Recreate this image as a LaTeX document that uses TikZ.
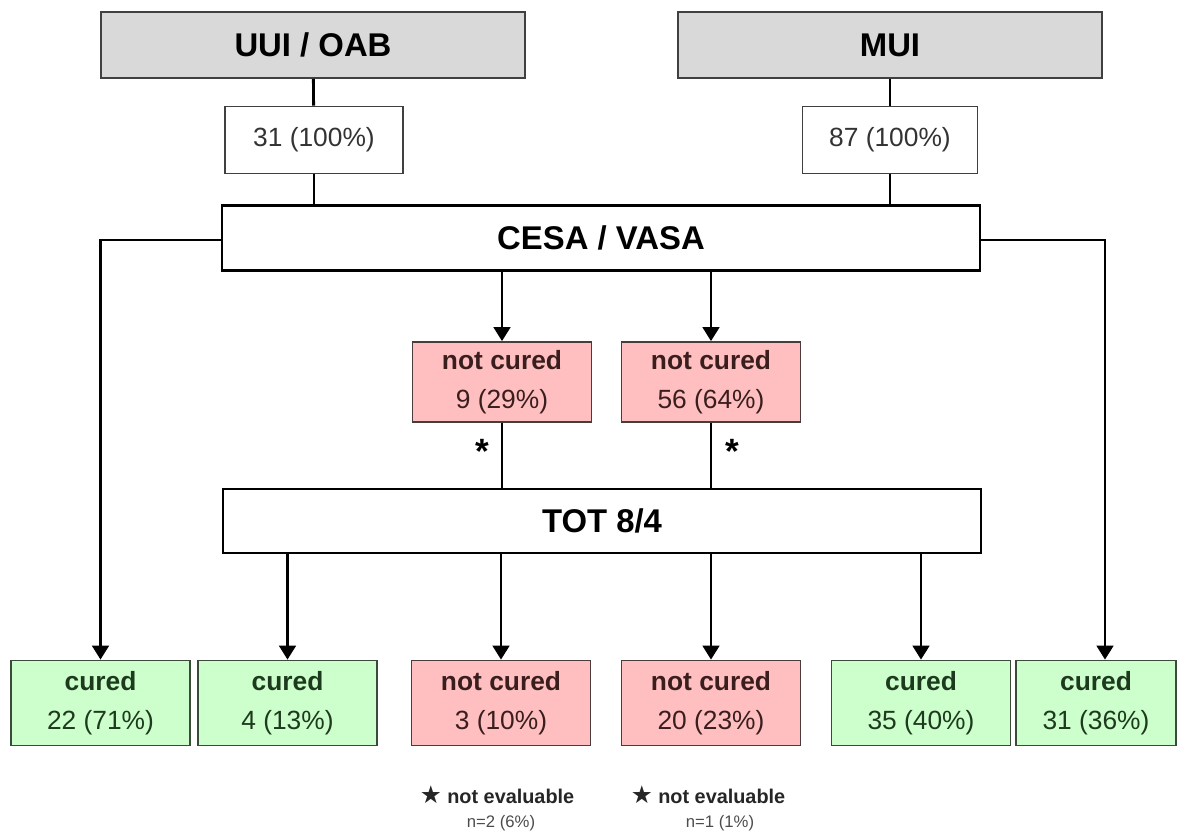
\documentclass[tikz,border=0pt]{standalone}
\usepackage{fontspec}
\setmainfont{Liberation Sans}
\newfontfamily\symfont{DejaVu Sans}
\usepackage{tikz}
\usetikzlibrary{arrows.meta, calc}
\definecolor{boxgray}{HTML}{D9D9D9}
\definecolor{curedfill}{HTML}{CCFFCC}
\definecolor{curedtext}{HTML}{1E3A1E}
\definecolor{curededge}{HTML}{3C4A3C}
\definecolor{notcuredfill}{HTML}{FFBFC0}
\definecolor{notcuredtext}{HTML}{3A1E1E}
\definecolor{notcurededge}{HTML}{4A3C3C}

\begin{document}
\begin{tikzpicture}[x=0.02cm, y=-0.02cm]
    \tikzset{TitleStyle/.style = {draw = black!75, line width = 1.1pt, fill = boxgray, minimum width = 8.5cm, minimum height = 1.32cm, inner sep = 0, font = \fontsize{18.7}{22}\selectfont\bfseries}}
    \tikzset{CountStyle/.style = {draw = black!75, line width = 1pt, fill = white, minimum width = 3.56cm, minimum height = 1.34cm, inner sep = 0, text = black!80, font = \fontsize{15}{18}\selectfont}}
    \tikzset{StepStyle/.style = {draw = black, line width = 1.6pt, fill = white, minimum width = 15.16cm, minimum height = 1.3cm, inner sep = 0, font = \fontsize{18.7}{22}\selectfont\bfseries}}
    \tikzset{CuredStyle/.style = {draw = curededge, line width = 1pt, fill = curedfill, minimum width = 3.58cm, minimum height = 1.7cm, inner sep = 0, align = center, text = curedtext, font = \fontsize{15}{22}\selectfont}}
    \tikzset{NotCuredStyle/.style = {CuredStyle, draw = notcurededge, fill = notcuredfill, text = notcuredtext}}
    \tikzset{StarStyle/.style = {inner sep = 0, font = \fontsize{20}{20}\selectfont\bfseries}}
    \tikzset{FlowLine/.style = {draw, line width = 1.6pt}}
    \tikzset{ArrowTip/.style = {-{Triangle[width = 9.5pt, length = 8pt]}}}

    \useasboundingbox[fill = white] (0,0) rectangle (1181,831);

    \node[TitleStyle] at (313,45) (uui) {UUI / OAB};
    \node[TitleStyle] at (890,45) (mui) {MUI};
    \node[CountStyle] at (314,140) (n31) {31 (100\%)};
    \node[CountStyle, minimum width = 3.5cm] at (890,140) (n87) {87 (100\%)};
    \node[StepStyle] at (601,238) (cesa) {CESA / VASA};
    \node[NotCuredStyle, minimum height = 1.6cm] at (502,382) (nc1) {\textbf{not cured}\\9 (29\%)};
    \node[NotCuredStyle, minimum height = 1.6cm] at (711,382) (nc2) {\textbf{not cured}\\56 (64\%)};
    \node[StarStyle] at (482,451) (s1) {*};
    \node[StarStyle] at (732,451) (s2) {*};
    \node[StepStyle, minimum height = 1.28cm] at (602,521) (tot) {TOT 8/4};

    \node[CuredStyle] at (100.5,703) (c1) {\textbf{cured}\\22 (71\%)};
    \node[CuredStyle] at (287.5,703) (c2) {\textbf{cured}\\4 (13\%)};
    \node[NotCuredStyle] at (501,703) (nc3) {\textbf{not cured}\\3 (10\%)};
    \node[NotCuredStyle] at (711,703) (nc4) {\textbf{not cured}\\20 (23\%)};
    \node[CuredStyle] at (921,703) (c5) {\textbf{cured}\\35 (40\%)};
    \node[CuredStyle, minimum width = 3.2cm] at (1096,703) (c6) {\textbf{cured}\\31 (36\%)};

    \node[inner sep = 0, font = \fontsize{11.3}{13}\selectfont\bfseries, text = black!85] at (497,795) (f1) {{\symfont\fontsize{14}{14}\selectfont ★} not evaluable};
    \node[inner sep = 0, font = \fontsize{9.5}{11}\selectfont, text = black!70] at (501,823) (f1n) {n=2 (6\%)};
    \node[inner sep = 0, font = \fontsize{11.3}{13}\selectfont\bfseries, text = black!85] at (708,795) (f2) {{\symfont\fontsize{14}{14}\selectfont ★} not evaluable};
    \node[inner sep = 0, font = \fontsize{9.5}{11}\selectfont, text = black!70] at (720,823) (f2n) {n=1 (1\%)};

    \path[FlowLine]
        (uui) edge (n31)
        (mui) edge (n87)
        (n31.south) edge (n31.south |- cesa.north)
        (n87.south) edge (n87.south |- cesa.north)
        (nc1.south) edge (nc1.south |- tot.north)
        (nc2.south) edge (nc2.south |- tot.north)
        (cesa.south -| nc1.north) edge[ArrowTip] (nc1.north)
        (cesa.south -| nc2.north) edge[ArrowTip] (nc2.north)
        (tot.south -| c2.north) edge[ArrowTip] (c2.north)
        (tot.south -| nc3.north) edge[ArrowTip] (nc3.north)
        (tot.south -| nc4.north) edge[ArrowTip] (nc4.north)
        (tot.south -| c5.north) edge[ArrowTip] (c5.north)
        ;
    \draw[FlowLine, ArrowTip] ($(cesa.west)+(0,2)$) -| (c1.north);
    \draw[FlowLine, ArrowTip] ($(cesa.east)+(0,2)$) -| ($(c6.north)+(9,0)$);
\end{tikzpicture}
\end{document}
